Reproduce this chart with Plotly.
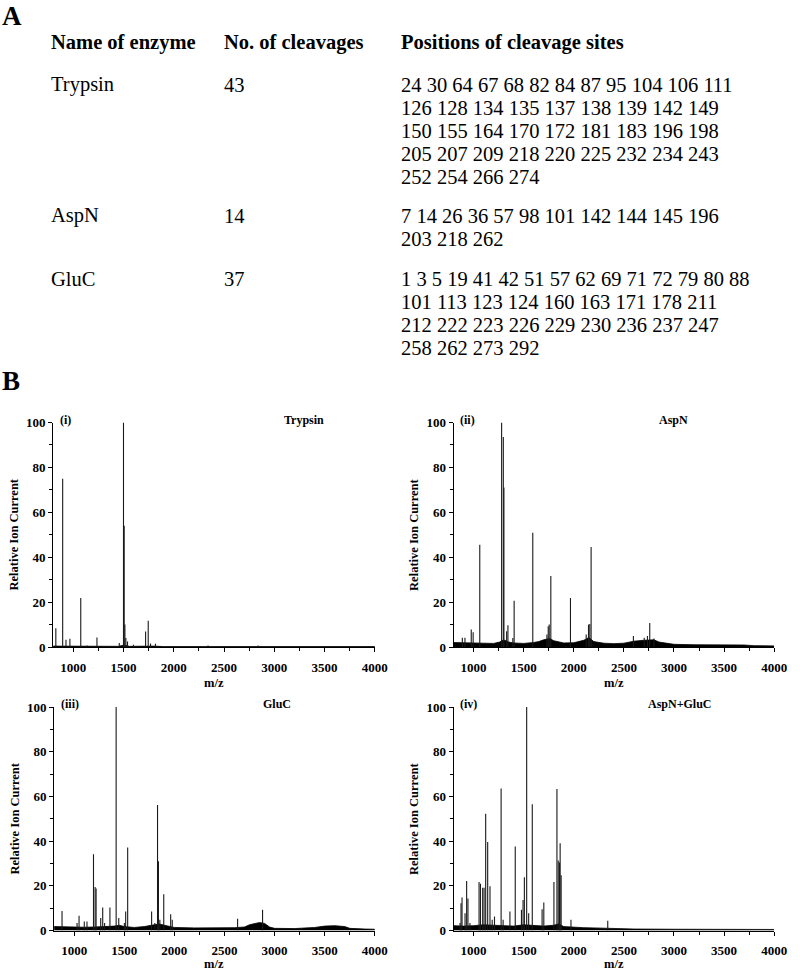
import plotly.graph_objects as go
from plotly.subplots import make_subplots

# ---- panel A: cleavage table ----
enzymes = ['Trypsin', 'AspN', 'GluC']
n_cleavages = ['43', '14', '37']
cleavage_lines = [
    ['24 30 64 67 68 82 84 87 95 104 106 111',
     '126 128 134 135 137 138 139 142 149',
     '150 155 164 170 172 181 183 196 198',
     '205 207 209 218 220 225 232 234 243',
     '252 254 266 274'],
    ['7 14 26 36 57 98 101 142 144 145 196',
     '203 218 262'],
    ['1 3 5 19 41 42 51 57 62 69 71 72 79 80 88',
     '101 113 123 124 160 163 171 178 211',
     '212 222 223 226 229 230 236 237 247',
     '258 262 273 292'],
]
headers = ['Name of enzyme', 'No. of cleavages', 'Positions of cleavage sites']

# ---- panel B: MALDI spectra (m/z, relative intensity) ----
tryp_mz = [827, 895, 928, 967, 1075, 1137, 1236, 1458, 1500, 1507, 1514, 1524, 1540, 1599,
           1720, 1746, 1769, 1818, 2341, 2839]
tryp_int = [8.4, 75, 3.2, 3.7, 21.8, 0.7, 4.2, 1.8, 100, 54, 10, 4, 2.5, 1,
            6.9, 11.7, 1.6, 1.5, 0.7, 0.7]
tryp_bl_mz = [800, 1000, 1450, 1500, 1560, 1800, 1900, 4000]
tryp_bl = [0.4, 0.3, 0.3, 0.8, 0.3, 0.4, 0.2, 0.2]

aspn_mz = [888, 914, 977, 996, 1062, 1280, 1297, 1303, 1330, 1343, 1392, 1405, 1591,
           1732, 1745, 1755, 1771, 1967, 2124, 2147, 2160, 2173, 2595, 2703, 2735, 2758, 2800]
aspn_int = [4.1, 4.1, 7.8, 6.6, 45.6, 100, 93.5, 71, 7, 9.7, 4, 20.6, 50.9,
            5.6, 9.3, 10, 31.6, 21.8, 5.6, 10, 10.3, 44.6, 4.9, 4.1, 4.9, 10.7, 3.8]
aspn_bl_mz = [800, 900, 1000, 1100, 1200, 1260, 1300, 1350, 1400, 1500, 1600, 1650, 1700,
              1760, 1800, 1900, 2000, 2100, 2150, 2200, 2300, 2400, 2500, 2550, 2600, 2700,
              2800, 2850, 2950, 3000, 3200, 3400, 3600, 3700, 3800, 4000]
aspn_bl = [2.0, 1.8, 1.6, 1.7, 1.6, 2.2, 3.2, 2.2, 1.8, 1.6, 2.0, 2.4, 3.2,
           3.8, 2.8, 1.8, 1.9, 3.0, 4.2, 2.4, 1.7, 1.5, 1.7, 2.2, 2.6, 3.0,
           3.2, 2.2, 1.6, 1.2, 1.0, 1.0, 1.1, 0.9, 0.6, 0.5]

gluc_mz = [879, 1029, 1049, 1101, 1128, 1193, 1209, 1219, 1265, 1285, 1304, 1357, 1419,
           1445, 1501, 1514, 1534, 1773, 1805, 1832, 1841, 1855, 1894, 1963, 1979, 2631, 2880]
gluc_int = [8.8, 3.4, 6.6, 4.1, 4.1, 34.2, 19.5, 18.8, 5.6, 10.3, 3.4, 10.3, 100,
            5.6, 3.4, 8.5, 37.2, 8.5, 3.4, 56.2, 31, 4.8, 16.2, 7.3, 4.8, 5.3, 9.3]
gluc_bl_mz = [800, 900, 1000, 1100, 1200, 1300, 1400, 1450, 1500, 1600, 1700, 1800, 1850,
              1900, 2000, 2200, 2400, 2600, 2700, 2750, 2850, 2900, 2950, 3000, 3200, 3400,
              3500, 3600, 3700, 3750, 3900, 4000]
gluc_bl = [1.8, 1.6, 1.4, 1.5, 1.6, 1.7, 2.0, 2.4, 1.8, 1.4, 1.8, 2.6, 3.0,
           2.4, 1.4, 1.2, 1.2, 1.3, 1.6, 2.6, 3.6, 3.2, 1.6, 1.0, 0.9, 1.4,
           2.0, 2.2, 1.8, 1.0, 0.7, 0.6]

combo_mz = [865, 875, 885, 915, 931, 944, 964, 1055, 1069, 1091, 1105, 1121, 1141, 1164,
            1186, 1209, 1275, 1295, 1363, 1416, 1478, 1494, 1507, 1530, 1550, 1586, 1684,
            1701, 1802, 1832, 1845, 1858, 1864, 1874, 1972, 2339]
combo_int = [3.4, 12.2, 14.8, 7.8, 22.2, 14.4, 3.4, 21.7, 21, 19.2, 19.2, 52.3, 39.6, 19.8,
             4.8, 6.3, 63.6, 4.8, 8.5, 37.6, 9.3, 13.7, 23.9, 100, 7.8, 56.5, 9.5,
             12.6, 21.7, 63.3, 31.3, 30.5, 39.1, 24.7, 4.8, 4.4]
combo_bl_mz = [800, 900, 1000, 1100, 1200, 1300, 1400, 1500, 1600, 1700, 1800, 1850, 1900,
               2000, 2100, 2200, 2300, 2400, 2600, 3000, 3500, 4000]
combo_bl = [2.2, 2.0, 2.2, 2.6, 2.4, 2.2, 2.0, 2.6, 2.2, 2.0, 2.4, 3.0, 1.8,
            1.4, 1.3, 1.2, 1.1, 0.8, 0.7, 0.6, 0.6, 0.5]

panels = [
    ('(i)', 'Trypsin', tryp_mz, tryp_int, tryp_bl_mz, tryp_bl),
    ('(ii)', 'AspN', aspn_mz, aspn_int, aspn_bl_mz, aspn_bl),
    ('(iii)', 'GluC', gluc_mz, gluc_int, gluc_bl_mz, gluc_bl),
    ('(iv)', 'AspN+GluC', combo_mz, combo_int, combo_bl_mz, combo_bl),
]

W, H = 800, 976
SERIF = 'Liberation Serif'


def px(x):
    return x / W


def py(y):
    return 1 - y / H


def sticks(mz, inten):
    xs, ys = [], []
    for m, h in zip(mz, inten):
        xs += [m, m, None]
        ys += [0, h, None]
    return xs, ys


fig = make_subplots(rows=2, cols=2)

# pixel boxes of the four plot areas (left, right, top, bottom)
boxes = [(54, 381, 422, 650), (461, 787, 422, 650),
         (55, 381, 711, 938), (461, 787, 711, 938)]
name_x = [309, 685, 282, 691]
mz_label_gap = [37, 37, 34, 34]

ann = []
for i, (tag, name, mz, inten, bl_mz, bl) in enumerate(panels):
    r, c = i // 2 + 1, i % 2 + 1
    fig.add_trace(go.Scatter(x=bl_mz, y=bl, mode='lines', fill='tozeroy',
                             line=dict(color='black', width=0.8),
                             fillcolor='black', hoverinfo='skip'), row=r, col=c)
    xs, ys = sticks(mz, inten)
    fig.add_trace(go.Scatter(x=xs, y=ys, mode='lines',
                             line=dict(color='#1a1a1a', width=1.1)), row=r, col=c)

    left, right, top, bottom = boxes[i]
    sfx = '' if i == 0 else str(i + 1)
    fig.layout['xaxis' + sfx].domain = [px(left), px(right)]
    fig.layout['yaxis' + sfx].domain = [py(bottom), py(top)]

    ann.append(dict(x=px(left + 5), y=py(top - 3), text='<b>%s</b>' % tag,
                    xanchor='left', yanchor='middle', font=dict(size=12)))
    ann.append(dict(x=px(name_x[i]), y=py(top - 3), text='<b>%s</b>' % name,
                    xanchor='center', yanchor='middle', font=dict(size=12)))
    ann.append(dict(x=px(left - 40), y=py((top + bottom) / 2),
                    text='<b>Relative Ion Current</b>', textangle=-90,
                    xanchor='center', yanchor='middle', font=dict(size=12.5)))
    ann.append(dict(x=px((left + right) / 2), y=py(bottom + mz_label_gap[i]),
                    text='<b>m/z</b>', xanchor='center', yanchor='middle',
                    font=dict(size=12.5)))

tick_font = dict(family=SERIF, size=13, color='black', weight='bold')
fig.update_xaxes(range=[800, 4000], tick0=1000, dtick=500, ticks='outside', ticklen=4,
                 tickwidth=1, tickcolor='black', showline=True, linecolor='black',
                 linewidth=1, showgrid=False, zeroline=False, tickfont=tick_font,
                 ticklabelstandoff=4,
                 minor=dict(dtick=250, tick0=750, ticks='outside', ticklen=3,
                            tickcolor='black', showgrid=False))
fig.update_yaxes(range=[0, 100], tick0=0, dtick=20, ticks='outside', ticklen=4,
                 tickwidth=1, tickcolor='black', showline=True, linecolor='black',
                 linewidth=1, showgrid=False, zeroline=False, tickfont=tick_font,
                 minor=dict(dtick=10, ticks='outside', ticklen=3,
                            tickcolor='black', showgrid=False))

# panel letters
ann.append(dict(x=px(0), y=py(9), text='<b>A</b>', xanchor='left', yanchor='middle',
                font=dict(size=27)))
ann.append(dict(x=px(0), y=py(380), text='<b>B</b>', xanchor='left', yanchor='middle',
                font=dict(size=27)))

# table
col_x = [50, 226, 406]
for cx, h in zip(col_x, headers):
    ann.append(dict(x=px(cx), y=py(36), text='<b>%s</b>' % h, xanchor='left',
                    yanchor='middle', font=dict(size=20.5)))
row_y = [79, 212, 276]
for ry, enz, n, lines in zip(row_y, enzymes, n_cleavages, cleavage_lines):
    ann.append(dict(x=px(col_x[0]), y=py(ry), text=enz, xanchor='left',
                    yanchor='middle', font=dict(size=20.5)))
    ann.append(dict(x=px(col_x[1]), y=py(ry), text=n, xanchor='left',
                    yanchor='middle', font=dict(size=20.5)))
    for k, line in enumerate(lines):
        ann.append(dict(x=px(col_x[2]), y=py(ry + 23.5 * k), text=line, xanchor='left',
                        yanchor='middle', font=dict(size=20.5)))

for a in ann:
    a.update(xref='paper', yref='paper', showarrow=False)

fig.update_layout(
    width=W, height=H,
    margin=dict(l=0, r=0, t=0, b=0),
    paper_bgcolor='white', plot_bgcolor='white',
    font=dict(family=SERIF, color='black'),
    showlegend=False,
    annotations=ann,
)

# drop the browser's default body margin so the 800x976 figure fills the page exactly
fig.write_html("out.html", config={'displayModeBar': False},
               post_script="document.body.style.margin='0px';")
